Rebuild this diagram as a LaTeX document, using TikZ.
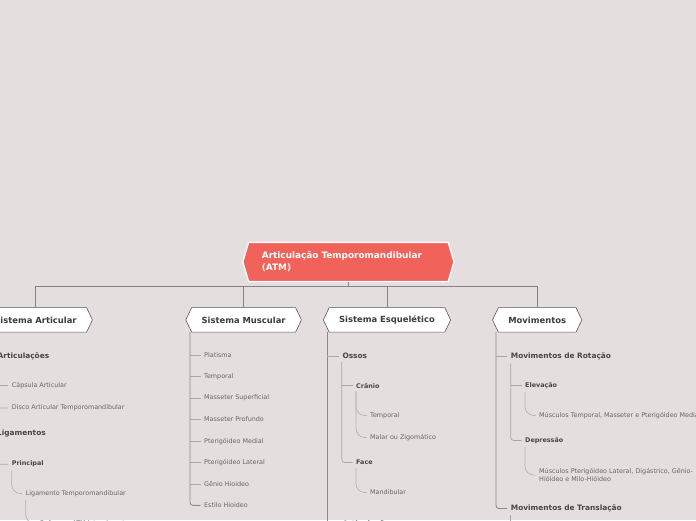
\documentclass[tikz,border=0pt]{standalone}
\usepackage{fontspec}
\setmainfont{DejaVu Sans}
\usetikzlibrary{shapes.symbols}
\definecolor{paper}{HTML}{E5DEDF}
\definecolor{coral}{HTML}{F0625A}
\definecolor{ink}{HTML}{3C3C3C}
\definecolor{leafgray}{HTML}{666666}
\definecolor{wire}{HTML}{8A8A8A}

\begin{document}
\begin{tikzpicture}[
    x=1pt, y=-1pt,
    rootbox/.style={signal, signal to=west and east, signal pointer angle=147, fill=coral, draw=white, line width=1.3pt, text=white, font=\fontsize{8.9}{11.7}\selectfont\bfseries, text width=173pt, align=left, inner xsep=13.3pt, minimum height=39pt},
    head/.style={signal, signal to=west and east, signal pointer angle=129, fill=white, draw=ink!85, line width=0.6pt, text=ink, font=\fontsize{8.4}{10}\selectfont\bfseries, inner xsep=10pt, minimum height=24.5pt},
    topic/.style={anchor=west, inner xsep=3.5pt, inner ysep=1pt, text=ink!95, font=\fontsize{7.4}{9}\selectfont\bfseries},
    subtopic/.style={anchor=west, inner xsep=3.5pt, inner ysep=1pt, text=ink!95, font=\fontsize{6.4}{7.7}\selectfont\bfseries},
    item/.style={anchor=west, inner xsep=3.5pt, inner ysep=1pt, text=leafgray, font=\fontsize{6.4}{7.7}\selectfont, align=left},
    bar/.style={draw=wire!95!black, line width=0.9pt},
    trunk/.style={draw=wire, line width=0.9pt, rounded corners=3pt},
    twig/.style={draw=wire!75, line width=0.7pt, rounded corners=3pt},
    curl/.style={draw=wire!65, line width=0.7pt, rounded corners=9pt}
  ]
    \useasboundingbox (0,-1.2) rectangle (696,518.8);
    \fill[paper] (0,-1.2) rectangle (696,518.8);
    \clip (0,-1.2) rectangle (696,518.8);

    \node[rootbox] (root) at (348.4,260.7) {Articulação Temporomandibular\\(ATM)};
    \node[head] (art) at (35.5,318.7) {Sistema Articular};
    \node[head] (mus) at (243.6,318.7) {Sistema Muscular};
    \node[head] (esq) at (387,318.7) {Sistema Esquelético};
    \node[head] (mov) at (537.2,318.7) {Movimentos};
    \draw[bar] (root.south) -- ++(0,4) -| (art.north);
    \draw[bar] (root.south) -- ++(0,4) -| (mus.north);
    \draw[bar] (root.south) -- ++(0,4) -| (esq.north);
    \draw[bar] (root.south) -- ++(0,4) -| (mov.north);

    \coordinate (artT) at (-20,331);
    \node[topic] (aA) at (-6,355.3) {Articulações};
    \node[item] (aA1) at (8.2,384.3) {Cápsula Articular};
    \node[item] (aA2) at (8.2,406.7) {Disco Articular Temporomandibular};
    \node[topic] (aL) at (-6.5,432.3) {Ligamentos};
    \node[subtopic] (aP) at (8.2,463) {Principal};
    \node[item] (aP1) at (22.2,492.3) {Ligamento Temporomandibular};
    \node[item] (aP2) at (36.5,522.3) {Reforça a ATM lateralmente};
    \coordinate (aAs) at ([xshift=3pt]aA.south west);
    \coordinate (aLs) at ([xshift=3pt]aL.south west);
    \draw[trunk] (artT) |- (aA.west);
    \draw[trunk] (artT) |- (aL.west);
    \draw[twig] (aAs) |- (aA1.west);
    \draw[twig] (aAs) |- (aA2.west);
    \draw[twig] (aLs) |- (aP.west);
    \draw[curl] ([xshift=3.5pt,yshift=-2pt]aP.south west) |- (aP1.west);
    \draw[curl] ([xshift=3.5pt,yshift=-2pt]aP1.south west) |- (aP2.west);

    \coordinate (musT) at (190,331);
    \node[item] (m1) at (200.5,354) {Platisma};
    \node[item] (m2) at (200.5,375.5) {Temporal};
    \node[item] (m3) at (200.5,397) {Masseter Superficial};
    \node[item] (m4) at (200.5,418.4) {Masseter Profundo};
    \node[item] (m5) at (200.5,439.9) {Pterigóideo Medial};
    \node[item] (m6) at (200.5,461.4) {Pterigóideo Lateral};
    \node[item] (m7) at (200.5,482.8) {Gênio Hioideo};
    \node[item] (m8) at (200.5,504.2) {Estilo Hioideo};
    \draw[trunk] (musT) |- (m8.west);
    \draw[twig] (musT |- m1.west) -- (m1.west);
    \draw[twig] (musT |- m2.west) -- (m2.west);
    \draw[twig] (musT |- m3.west) -- (m3.west);
    \draw[twig] (musT |- m4.west) -- (m4.west);
    \draw[twig] (musT |- m5.west) -- (m5.west);
    \draw[twig] (musT |- m6.west) -- (m6.west);
    \draw[twig] (musT |- m7.west) -- (m7.west);

    \coordinate (esqT) at (327.3,331);
    \coordinate (esqB) at (327.3,540);
    \node[topic] (eO) at (338.8,355) {Ossos};
    \node[subtopic] (eC) at (352.5,384.3) {Crânio};
    \node[item] (eC1) at (366.5,414.3) {Temporal};
    \node[item] (eC2) at (366.5,436.3) {Malar ou Zigomático};
    \node[subtopic] (eF) at (352.5,461.3) {Face};
    \node[item] (eF1) at (366.5,491.3) {Mandibular};
    \node[topic] (eA) at (338.8,523) {Articulações};
    \coordinate (eOs) at ([xshift=3pt,yshift=-2pt]eO.south west);
    \draw[trunk] (esqT) -- (esqB);
    \draw[twig] (esqT |- eO.west) -- (eO.west);
    \draw[twig] (esqT |- eA.west) -- (eA.west);
    \draw[twig] (eOs) |- (eF.west);
    \draw[twig] (eOs |- eC.west) -- (eC.west);
    \draw[curl] ([xshift=3.5pt,yshift=-2pt]eC.south west) |- (eC1.west);
    \draw[curl] ([xshift=3.5pt,yshift=-2pt]eC.south west) |- (eC2.west);
    \draw[curl] ([xshift=3.5pt,yshift=-2pt]eF.south west) |- (eF1.west);

    \coordinate (movT) at (496,331);
    \node[topic] (vR) at (507.2,355.3) {Movimentos de Rotação};
    \node[subtopic] (vE) at (521.5,384.3) {Elevação};
    \node[item] (vE1) at (535.5,414.3) {Músculos Temporal, Masseter e Pterigóideo Medial};
    \node[subtopic] (vD) at (521.5,439.3) {Depressão};
    \node[item] (vD1) at (535.5,473.9) {Músculos Pterigóideo Lateral, Digástrico, Gênio-\\Hióideo e Milo-Hióideo};
    \node[topic] (vT) at (507.2,507.3) {Movimentos de Translação};
    \coordinate (vRs) at ([xshift=3.5pt,yshift=-2pt]vR.south west);
    \coordinate (vTs) at ([xshift=3.5pt,yshift=-2pt]vT.south west);
    \coordinate (vTend) at ([yshift=-40pt]vTs);
    \draw[trunk] (movT) |- (vT.west);
    \draw[twig] (movT |- vR.west) -- (vR.west);
    \draw[twig] (vRs) |- (vD.west);
    \draw[twig] (vRs |- vE.west) -- (vE.west);
    \draw[curl] ([xshift=3.5pt,yshift=-2pt]vE.south west) |- (vE1.west);
    \draw[curl] ([xshift=3.5pt,yshift=-2pt]vD.south west) |- (vD1.west);
    \draw[twig] (vTs) -- (vTend);
  \end{tikzpicture}
\end{document}
